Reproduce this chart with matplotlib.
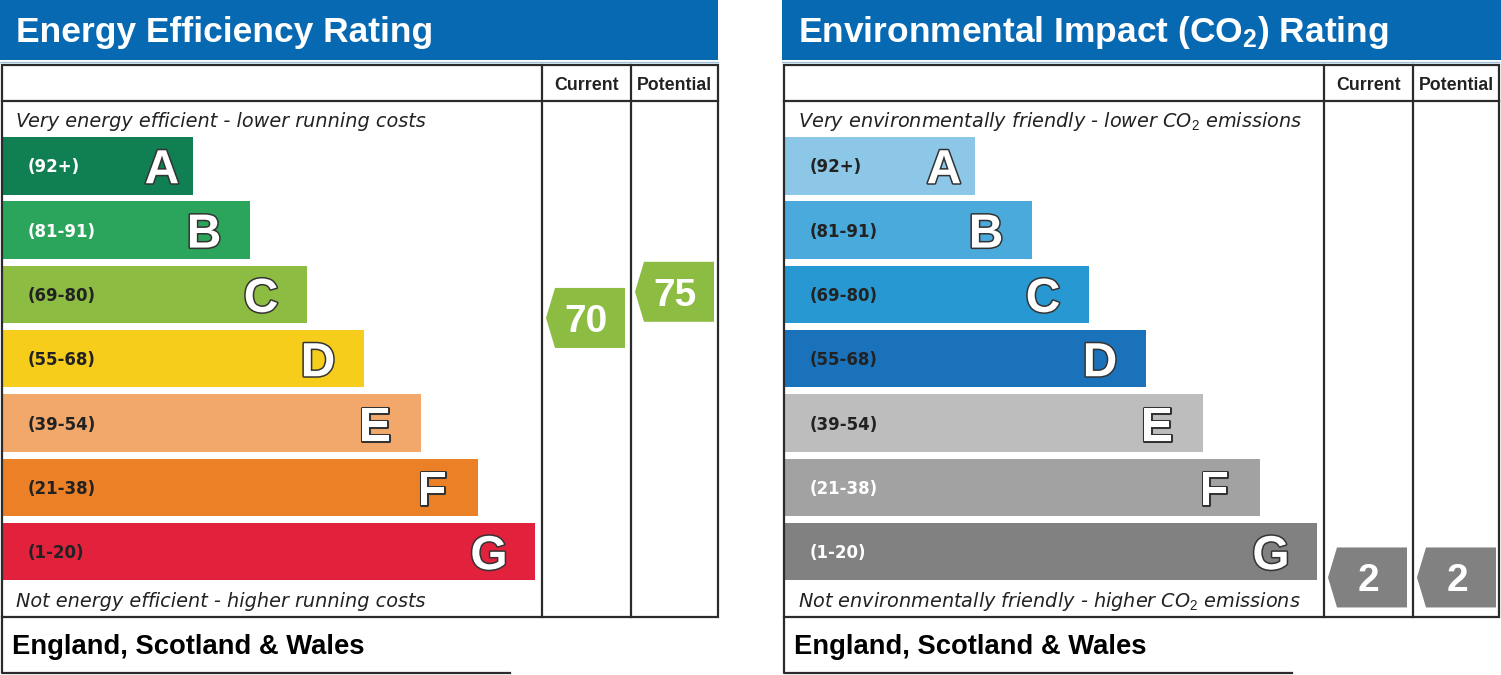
import matplotlib
matplotlib.use("Agg")
import matplotlib.pyplot as plt
from matplotlib.patches import Rectangle, Polygon
import matplotlib.patheffects as pe

plt.rcParams['mathtext.fontset'] = 'custom'
plt.rcParams['mathtext.rm'] = 'Liberation Sans'
plt.rcParams['mathtext.bf'] = 'Liberation Sans:bold'
plt.rcParams['mathtext.it'] = 'Liberation Sans:italic'

# --- data ---
bands = ['A', 'B', 'C', 'D', 'E', 'F', 'G']
band_lo = [92, 81, 69, 55, 39, 21, 1]
band_hi = [100, 91, 80, 68, 54, 38, 20]
band_labels = ['(92+)', '(81-91)', '(69-80)', '(55-68)', '(39-54)', '(21-38)', '(1-20)']

ee_colors = ['#107f52', '#2ba55b', '#8dbc42', '#f6cd1b', '#f2a86b', '#ec8027', '#e2213c']
ee_label_colors = ['white', 'white', '#222222', '#222222', '#222222', '#222222', '#222222']
ei_colors = ['#8cc7e7', '#4aaadc', '#2798d1', '#1a73ba', '#bdbdbd', '#a2a2a2', '#818181']
ei_label_colors = ['#222222', '#222222', '#222222', '#222222', '#222222', 'white', 'white']

ee_current, ee_potential = 70, 75
ei_current, ei_potential = 2, 2

ee_title = 'Energy Efficiency Rating'
ei_title = r'Environmental Impact (CO$_\mathbf{2}$) Rating'
ee_top = 'Very energy efficient - lower running costs'
ee_bottom = 'Not energy efficient - higher running costs'
ei_top = r'Very environmentally friendly - lower CO$_\mathrm{2}$ emissions'
ei_bottom = r'Not environmentally friendly - higher CO$_\mathrm{2}$ emissions'
region = 'England, Scotland & Wales'

# --- layout (pixels) ---
W, H = 1501, 675
HEADER_BLUE = '#0869b3'
LINE = '#2b2b2b'
ROW_TOP0, ROW_PITCH, BAR_H = 137, 64.33, 57.5
BAR_END0, BAR_STEP = 193, 57.0

fig = plt.figure(figsize=(W / 100, H / 100), dpi=100)
ax = fig.add_axes([0, 0, 1, 1])
ax.set_xlim(0, W)
ax.set_ylim(H, 0)
ax.axis('off')


def band_of(v):
    for i, (lo, hi) in enumerate(zip(band_lo, band_hi)):
        if lo <= v <= hi:
            return i
    return 0


def value_y(v):
    i = band_of(v)
    return ROW_TOP0 + i * ROW_PITCH + (band_hi[i] - v) / (band_hi[i] - band_lo[i]) * BAR_H


def arrow(x_left, v, color):
    yc = value_y(v)
    pts = [(x_left + 4, yc), (x_left + 13, yc - 30), (x_left + 83, yc - 30),
           (x_left + 83, yc + 30), (x_left + 13, yc + 30)]
    ax.add_patch(Polygon(pts, closed=True, facecolor=color, edgecolor='none', zorder=3))
    ax.text(x_left + 44, yc + 14, str(v), color='white', fontsize=28, fontweight='bold',
            family='Liberation Sans', ha='center', va='baseline', zorder=4)


def panel(x0, title, top_txt, bottom_txt, colors, label_colors, current, potential):
    right = x0 + 718 if x0 == 0 else W - 2
    ax.add_patch(Rectangle((x0, 0), right - x0 + (0 if x0 == 0 else 2), 60,
                           facecolor=HEADER_BLUE, edgecolor='none'))
    ax.plot([x0, right], [62, 62], color='#9cc3e4', lw=1)
    ax.text(x0 + 16, 42, title, color='white', fontsize=25.5, fontweight='bold',
            family='Liberation Sans', va='baseline')

    # table frame
    col1, col2 = x0 + 542, x0 + 631
    ax.add_patch(Rectangle((x0 + 2, 65), right - x0 - 2, 552, facecolor='none',
                           edgecolor=LINE, lw=1.6, zorder=5))
    ax.plot([x0 + 2, right], [101, 101], color=LINE, lw=1.6, zorder=5)
    for cx in (col1, col2):
        ax.plot([cx, cx], [65, 617], color=LINE, lw=1.6, zorder=5)
    ax.text((col1 + col2) / 2, 90, 'Current', fontsize=12.8, fontweight='bold',
            family='Liberation Sans', color='#222222', ha='center', va='baseline')
    ax.text((col2 + right) / 2, 90, 'Potential', fontsize=12.8, fontweight='bold',
            family='Liberation Sans', color='#222222', ha='center', va='baseline')

    ax.text(x0 + 16, 127, top_txt, fontsize=13.9, style='italic', family='DejaVu Sans',
            color='#222222', va='baseline')
    ax.text(x0 + 16, 607, bottom_txt, fontsize=13.9, style='italic', family='DejaVu Sans',
            color='#222222', va='baseline')

    # bands
    n = len(bands)
    centers = [ROW_TOP0 + i * ROW_PITCH + BAR_H / 2 for i in range(n)]
    widths = [BAR_END0 + i * BAR_STEP - 2 for i in range(n)]
    ax.barh(centers, widths, height=BAR_H, left=x0 + 2, color=colors, zorder=2)
    for i in range(n):
        end = x0 + 2 + widths[i]
        ax.text(x0 + 28, centers[i] + 6.5, band_labels[i], fontsize=12, fontweight='bold',
                family='DejaVu Sans', color=label_colors[i], va='baseline', zorder=3)
        lx = end - (31 if i == 0 else 46)
        ax.text(lx, centers[i] + 17.5, bands[i], fontsize=34.5, fontweight='bold',
                family='Liberation Sans', color='white', ha='center', va='baseline', zorder=3,
                path_effects=[pe.withStroke(linewidth=2.2, foreground='#333333')])

    arrow(col1, current, colors[band_of(current)])
    arrow(col2, potential, colors[band_of(potential)])

    # footer
    ax.plot([x0 + 2, x0 + 2, x0 + 510], [617, 673, 673], color=LINE, lw=1.6)
    ax.text(x0 + 12, 654, region, fontsize=19.7, fontweight='bold', family='Liberation Sans',
            color='black', va='baseline')


panel(0, ee_title, ee_top, ee_bottom, ee_colors, ee_label_colors, ee_current, ee_potential)
panel(782, ei_title, ei_top, ei_bottom, ei_colors, ei_label_colors, ei_current, ei_potential)

fig.savefig('out.png', dpi=100, facecolor='white')
